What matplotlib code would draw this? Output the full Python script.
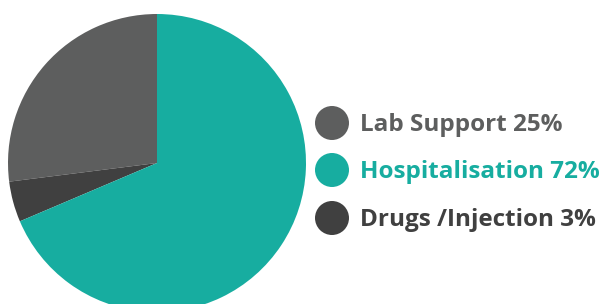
import matplotlib.pyplot as plt
from matplotlib.patches import Circle

# slices as drawn (the pie in the source is not exactly the printed percentages)
categories = ['Lab Support', 'Drugs /Injection', 'Hospitalisation']
drawn_share = [27.0, 4.4, 68.6]
colors = ['#5d5e5e', '#404040', '#17ada0']

legend_labels = ['Lab Support 25%', 'Hospitalisation 72%', 'Drugs /Injection 3%']
legend_colors = ['#5d5e5e', '#17ada0', '#404040']

W, H = 600, 304
fig = plt.figure(figsize=(6, 3.04), dpi=100)
ax = fig.add_axes([0, 0, 1, 1])

ax.pie(drawn_share, colors=colors, startangle=90, counterclock=True,
       center=(157, H - 163), radius=149, frame=True,
       wedgeprops=dict(linewidth=0))

ys = [123, 170, 218]
for lab, col, y in zip(legend_labels, legend_colors, ys):
    ax.add_patch(Circle((332, H - y), 17, color=col, lw=0))
    ax.text(360, H - y - 2, lab, color=col, fontsize=17.5, fontweight='bold',
            family='Open Sans', va='center', ha='left')

ax.set_xlim(0, W)
ax.set_ylim(0, H)
ax.set_aspect('equal')
ax.axis('off')

fig.savefig('out.png', dpi=100)
